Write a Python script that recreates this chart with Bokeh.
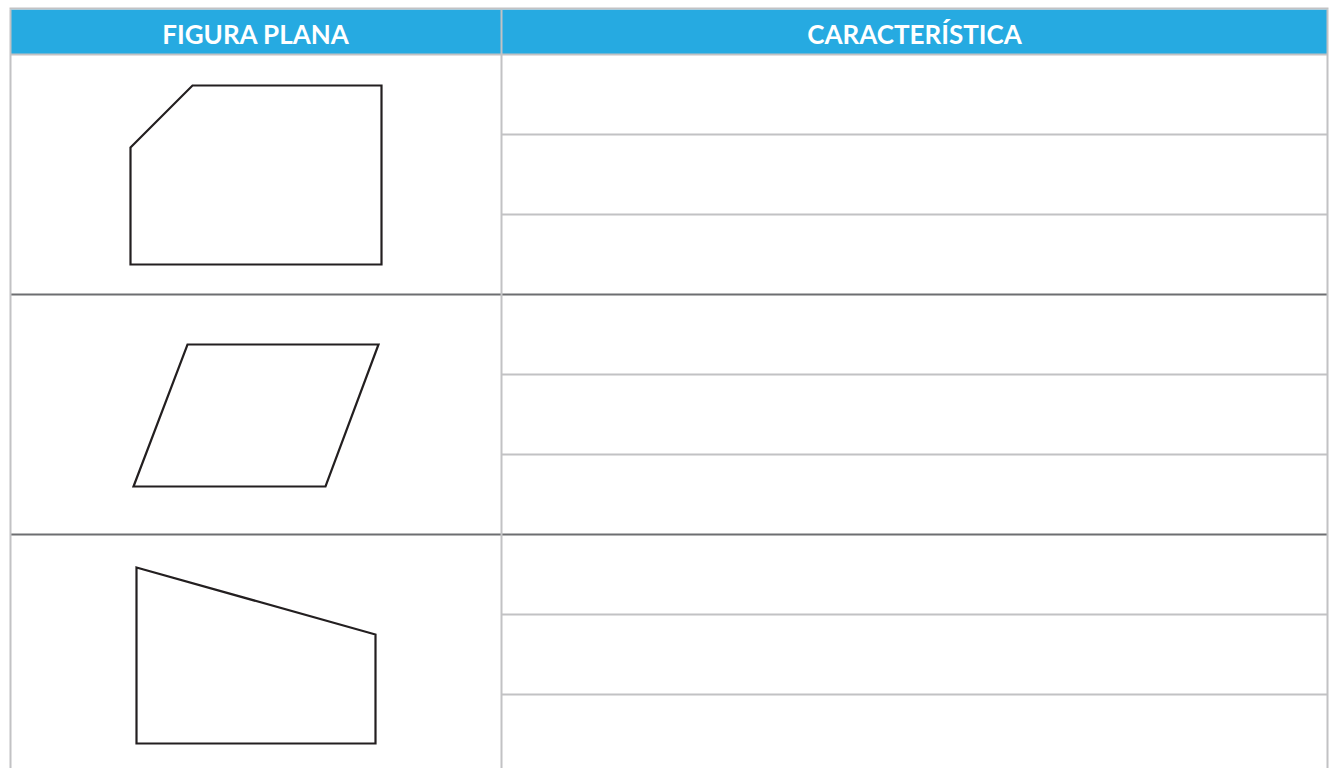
from bokeh.plotting import figure
from bokeh.models import Range1d
from bokeh.core.properties import value
from bokeh.embed import file_html
from bokeh.resources import INLINE

# Table structure (page pixel units)
headers = ["FIGURA PLANA", "CARACTERÍSTICA"]
col_edges = [10, 501, 1327]
header_top, header_bottom = 9, 54
major_rows = [294, 534]
minor_rows = [134, 214, 374, 454, 614, 694]
table_bottom = 770

# Shapes (vertex lists)
shape_xs = [
    [130, 192, 381, 381, 130],
    [187, 378, 325, 133],
    [136, 375, 375, 136],
]
shape_ys = [
    [147, 85, 85, 264, 264],
    [344, 344, 486, 486],
    [567, 634, 743, 743],
]

W, H = 1329, 768
p = figure(width=W, height=H, output_backend="svg", toolbar_location=None,
           x_range=Range1d(0, W), y_range=Range1d(H, 0),
           min_border=0)
p.axis.visible = False
p.grid.visible = False
p.outline_line_color = None
p.background_fill_color = "white"
p.border_fill_color = "white"

# header band
p.quad(left=[col_edges[0]], right=[col_edges[-1]], top=[header_top], bottom=[header_bottom],
       fill_color="#26AAE1", line_color=None)

# minor row lines (right column only)
p.segment(x0=[col_edges[1]] * len(minor_rows), x1=[col_edges[-1]] * len(minor_rows),
          y0=minor_rows, y1=minor_rows, line_color="#C2C2C4", line_width=2)
# header bottom line
p.segment(x0=[col_edges[0]], x1=[col_edges[-1]], y0=[header_bottom], y1=[header_bottom],
          line_color="#C2C2C4", line_width=2)
# major row lines
p.segment(x0=[col_edges[0]] * len(major_rows), x1=[col_edges[-1]] * len(major_rows),
          y0=major_rows, y1=major_rows, line_color="#6D6E71", line_width=2)
# vertical lines
p.segment(x0=col_edges, x1=col_edges, y0=[header_top] * 3, y1=[table_bottom] * 3,
          line_color="#C2C2C4", line_width=2)
# top border
p.segment(x0=[col_edges[0] - 1], x1=[col_edges[-1] + 1], y0=[header_top - 1], y1=[header_top - 1],
          line_color="#C2C2C4", line_width=2)

# header texts
centers = [(col_edges[i] + col_edges[i + 1]) / 2 for i in range(len(headers))]
p.text(x=centers, y=[(header_top + header_bottom) / 2 + 2] * 2, text=headers,
       text_font=value("Lato"), text_font_style="bold", text_font_size="26px",
       text_color="white", text_align="center", text_baseline="middle")

# shapes
p.patches(xs=shape_xs, ys=shape_ys, fill_color="white", line_color="#231F20", line_width=2.2,
          line_join="miter")

open("out.html", "w").write(file_html(p, INLINE))
